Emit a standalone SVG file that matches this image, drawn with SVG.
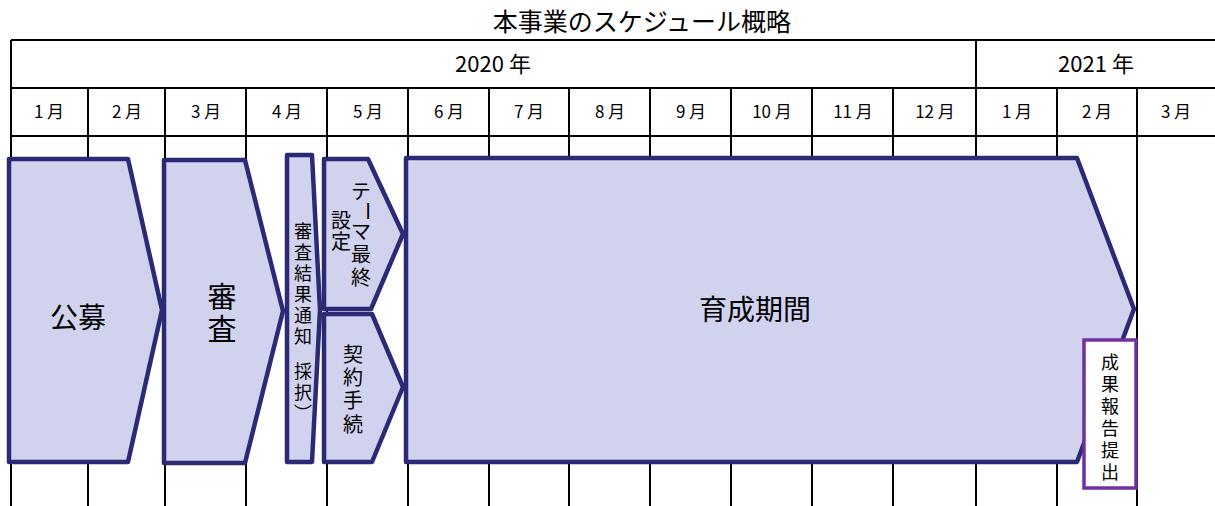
<svg xmlns="http://www.w3.org/2000/svg" width="1215" height="506" viewBox="0 0 1215 506">
<style>
.grid{stroke:#000;stroke-width:2;fill:none}
.sh{fill:#d0d2ee;stroke:#2b2a75;stroke-width:4.5;stroke-linejoin:round}
.t{font-family:"Noto Sans CJK JP","Noto Sans",sans-serif;fill:#000;text-anchor:middle}
.m{font-size:17px}
.y{font-size:22px}
.v18{font-size:18px}
.v20{font-size:20px}
</style>
<rect width="1215" height="506" fill="#fff"/>
<text class="t" x="642" y="31" style="font-size:25px">本事業のスケジュール概略</text>
<g id="grid" class="grid">
<line x1="11" y1="40" x2="1215" y2="40"/>
<line x1="11" y1="88" x2="1215" y2="88"/>
<line x1="11" y1="136" x2="1215" y2="136"/>
<line x1="11" y1="40" x2="11" y2="506"/>
<line x1="976" y1="40" x2="976" y2="506"/>
<line x1="88" y1="88" x2="88" y2="506"/>
<line x1="165" y1="88" x2="165" y2="506"/>
<line x1="246" y1="88" x2="246" y2="506"/>
<line x1="327" y1="88" x2="327" y2="506"/>
<line x1="408" y1="88" x2="408" y2="506"/>
<line x1="489" y1="88" x2="489" y2="506"/>
<line x1="569" y1="88" x2="569" y2="506"/>
<line x1="650" y1="88" x2="650" y2="506"/>
<line x1="731" y1="88" x2="731" y2="506"/>
<line x1="812" y1="88" x2="812" y2="506"/>
<line x1="893" y1="88" x2="893" y2="506"/>
<line x1="1057" y1="88" x2="1057" y2="506"/>
<line x1="1137" y1="88" x2="1137" y2="506"/>
</g>
<g id="labels">
<text class="t y" x="493" y="72">2020 年</text>
<text class="t y" x="1096" y="72">2021 年</text>
<text class="t m" x="49" y="118">1 月</text>
<text class="t m" x="127" y="118">2 月</text>
<text class="t m" x="206" y="118">3 月</text>
<text class="t m" x="287" y="118">4 月</text>
<text class="t m" x="368" y="118">5 月</text>
<text class="t m" x="449" y="118">6 月</text>
<text class="t m" x="529" y="118">7 月</text>
<text class="t m" x="610" y="118">8 月</text>
<text class="t m" x="691" y="118">9 月</text>
<text class="t m" x="772" y="118">10 月</text>
<text class="t m" x="853" y="118">11 月</text>
<text class="t m" x="935" y="118">12 月</text>
<text class="t m" x="1017" y="118">1 月</text>
<text class="t m" x="1097" y="118">2 月</text>
<text class="t m" x="1176" y="118">3 月</text>
</g>
<g id="koubo">
<polygon class="sh" points="9,159 128,159 162,310 128,462 9,462"/>
<text class="t" x="78" y="328" style="font-size:28px">公募</text>
</g>
<g id="shinsa">
<polygon class="sh" points="164,160 245,160 283,311 245,463 164,463"/>
<text class="t" x="222" y="308" style="font-size:29px">審</text>
<text class="t" x="222" y="340" style="font-size:29px">査</text>
</g>
<g id="tsuchi">
<polygon class="sh" points="287,155 312,155 320,310 312,462 287,462"/>
<text class="t v18" x="303" y="238">審</text>
<text class="t v18" x="303" y="259">査</text>
<text class="t v18" x="303" y="280">結</text>
<text class="t v18" x="303" y="301">果</text>
<text class="t v18" x="303" y="322">通</text>
<text class="t v18" x="303" y="343">知</text>
<text class="t v18" x="303" y="378">採</text>
<text class="t v18" x="303" y="399">択</text>
<text class="t v18" x="303" y="420">︶</text>
</g>
<g id="theme">
<polygon class="sh" points="324,159 368,159 403,234 371,309 324,309"/>
<text class="t v20" x="361" y="199">テ</text>
<text class="t v20" x="361" y="212" transform="rotate(90 361 211)">ー</text>
<text class="t v20" x="361" y="239">マ</text>
<text class="t v20" x="361" y="262">最</text>
<text class="t v20" x="361" y="285">終</text>
<text class="t v20" x="341" y="228">設</text>
<text class="t v20" x="341" y="249">定</text>
</g>
<g id="keiyaku">
<polygon class="sh" points="324,314 372,314 403,387 372,462 324,462"/>
<text class="t v20" x="353" y="362">契</text>
<text class="t v20" x="353" y="385">約</text>
<text class="t v20" x="353" y="408">手</text>
<text class="t v20" x="353" y="432">続</text>
</g>
<g id="ikusei">
<polygon class="sh" points="406,158 1077,158 1134,309 1077,462 406,462"/>
<text class="t" x="755" y="320" style="font-size:28px">育成期間</text>
</g>
<g id="houkoku">
<rect x="1084" y="340" width="52" height="148" fill="#fff" stroke="#7030a0" stroke-width="3.5"/>
<text class="t v18" x="1110" y="369">成</text>
<text class="t v18" x="1110" y="391">果</text>
<text class="t v18" x="1110" y="413">報</text>
<text class="t v18" x="1110" y="435">告</text>
<text class="t v18" x="1110" y="457">提</text>
<text class="t v18" x="1110" y="479">出</text>
</g>
</svg>
